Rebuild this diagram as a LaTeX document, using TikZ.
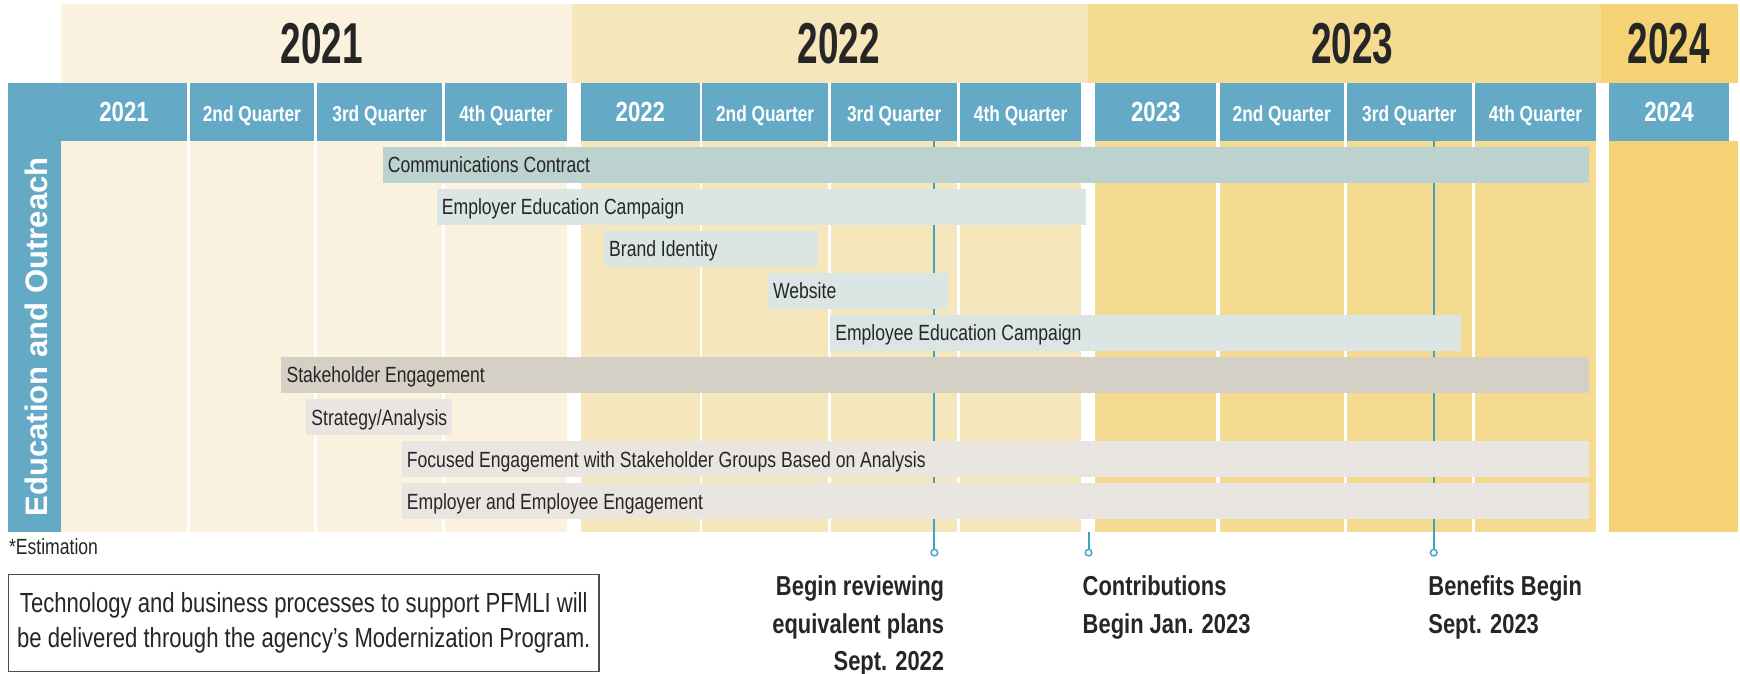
\documentclass[tikz,border=0pt]{standalone}
\usepackage{fontspec}
\setmainfont{Liberation Sans}
\newfontfamily\fnar[FakeStretch=0.80]{Liberation Sans}
\newfontfamily\fyr[FakeStretch=0.64]{Liberation Sans}
\definecolor{hblue}{HTML}{64AAC6}
\definecolor{yA}{HTML}{FAF2DE}
\definecolor{yB}{HTML}{F6E6BB}
\definecolor{yC}{HTML}{F5DA92}
\definecolor{yD}{HTML}{F5D374}
\definecolor{barA}{HTML}{BCD2CE}
\definecolor{barB}{HTML}{DAE5E4}
\definecolor{barC}{HTML}{D5D0C6}
\definecolor{barD}{HTML}{E9E6E1}
\definecolor{mteal}{HTML}{3AA6C2}
\definecolor{txt}{HTML}{262626}
\tikzset{
  htxt/.style={anchor=base, inner sep=0pt, text=white, font=\fnar\bfseries\fontsize{19.5}{20}\selectfont},
  hytxt/.style={anchor=base, inner sep=0pt, text=white, font=\fnar\bfseries\fontsize{25}{26}\selectfont},
  ytxt/.style={anchor=center, inner sep=0pt, text=txt, font=\fyr\bfseries\fontsize{52}{52}\selectfont},
  btxt/.style={anchor=base west, inner sep=0pt, text=txt, font=\fnar\fontsize{19.8}{22}\selectfont},
  mtxt/.style={inner sep=0pt, text=txt, font=\fnar\bfseries\fontsize{24.7}{26}\selectfont},
  mline/.style={draw=mteal, line width=1.6pt},
  mcirc/.style={circle, draw=mteal, fill=white, line width=1.3pt, minimum size=6pt, inner sep=0pt},
}
\newcommand\gbar[5]{%
  \pgfmathsetmacro\gtop{132.2+#1*37.9}%
  \fill[#4] (#2,\gtop) rectangle (#3,\gtop+32.4);
  \node[btxt] (bar#1) at (#2+4.5,\gtop+23.4) {#5};
}
\begin{document}
\begin{tikzpicture}[x=1pt,y=-1pt]
\useasboundingbox (0,0) rectangle (1568,607);
\fill[white] (0,0) rectangle (1568,607);
% top year bands
\fill[yA] (55,3.6) rectangle (515.6,74.5);
\fill[yB] (515.6,3.6) rectangle (980.5,74.5);
\fill[yC] (980.5,3.6) rectangle (1443,74.5);
\fill[yD] (1443,3.6) rectangle (1566,74.5);
\node[ytxt] (y1) at (290,39.7) {2021};
\node[ytxt] (y2) at (756,39.7) {2022};
\node[ytxt] (y3) at (1218.5,39.7) {2023};
\node[ytxt] (y4) at (1504,39.7) {2024};
% left blue column
\fill[hblue] (7,74.5) rectangle (55.5,479);
\node[rotate=90, inner sep=0pt, text=white, font=\bfseries\fontsize{28}{28}\selectfont] (side) at (32.5,303.5) {Education and Outreach};
% quarter columns
\foreach \a/\b/\t/\c/\s [count=\i] in {
  55/168.5/2021/yA/hytxt, 171/283/2nd Quarter/yA/htxt, 285.5/398.5/3rd Quarter/yA/htxt, 401/511/4th Quarter/yA/htxt,
  523.6/630.5/2022/yB/hytxt, 633/746/2nd Quarter/yB/htxt, 749/862.5/3rd Quarter/yB/htxt, 865/974.5/4th Quarter/yB/htxt,
  987/1096/2023/yC/hytxt, 1099/1211/2nd Quarter/yC/htxt, 1213.5/1326.5/3rd Quarter/yC/htxt, 1329.5/1438/4th Quarter/yC/htxt}
{
  \fill[\c] (\a,127) rectangle (\b,479);
  \fill[hblue] (\a,74.5) rectangle (\b,127);
  \node[\s] (h\i) at ({(\a+\b)/2},109.5) {\t};
}
\fill[yD] (1450,127) rectangle (1566,479);
\fill[hblue] (1450,74.5) rectangle (1558,127);
\node[hytxt] (h13) at (1504,109.5) {2024};
% milestones
\node[mcirc] (m1) at (842,498) {};
\node[mcirc] (m2) at (981,498) {};
\node[mcirc] (m3) at (1292,498) {};
\coordinate (t1) at (842,127);
\coordinate (t2) at (981,479);
\coordinate (t3) at (1292,127);
\draw[mline] (t1) -- (m1.north);
\draw[mline] (t2) -- (m2.north);
\draw[mline] (t3) -- (m3.north);
% bars
\gbar{0}{344.8}{1432}{barA}{Communications Contract}
\gbar{1}{393.5}{978.8}{barB}{Employer Education Campaign}
\gbar{2}{544.3}{737.4}{barB}{Brand Identity}
\gbar{3}{692}{854}{barB}{Website}
\gbar{4}{748}{1317}{barB}{Employee Education Campaign}
\gbar{5}{253.5}{1432}{barC}{Stakeholder Engagement}
\gbar{6}{276}{407}{barD}{Strategy/Analysis}
\gbar{7}{362}{1432}{barD}{Focused Engagement with Stakeholder Groups Based on Analysis}
\gbar{8}{362}{1432}{barD}{Employer and Employee Engagement}
% notes
\node[anchor=base west, inner sep=0pt, text=txt, font=\fnar\fontsize{19.8}{20}\selectfont] (est) at (8,500) {*Estimation};
\node[draw=black!70, line width=1.2pt, minimum width=532pt, minimum height=87pt, inner sep=0pt, align=center, text=txt, font=\fnar\fontsize{24.9}{31.5}\selectfont] (box) at (273.75,561.5) {Technology and business processes to support PFMLI will\\be delivered through the agency’s Modernization Program.};
% milestone labels
\node[mtxt, anchor=base east] (r1) at (851,536.6) {Begin reviewing};
\node[mtxt, anchor=base east] (r2) at (851,570.6) {equivalent plans};
\node[mtxt, anchor=base east] (r3) at (851,604.6) {Sept. 2022};
\node[mtxt, anchor=base west] (c1) at (975.5,536.6) {Contributions};
\node[mtxt, anchor=base west] (c2) at (975.5,570.6) {Begin Jan. 2023};
\node[mtxt, anchor=base west] (b1) at (1287,536.6) {Benefits Begin};
\node[mtxt, anchor=base west] (b2) at (1287,570.6) {Sept. 2023};
\end{tikzpicture}
\end{document}
